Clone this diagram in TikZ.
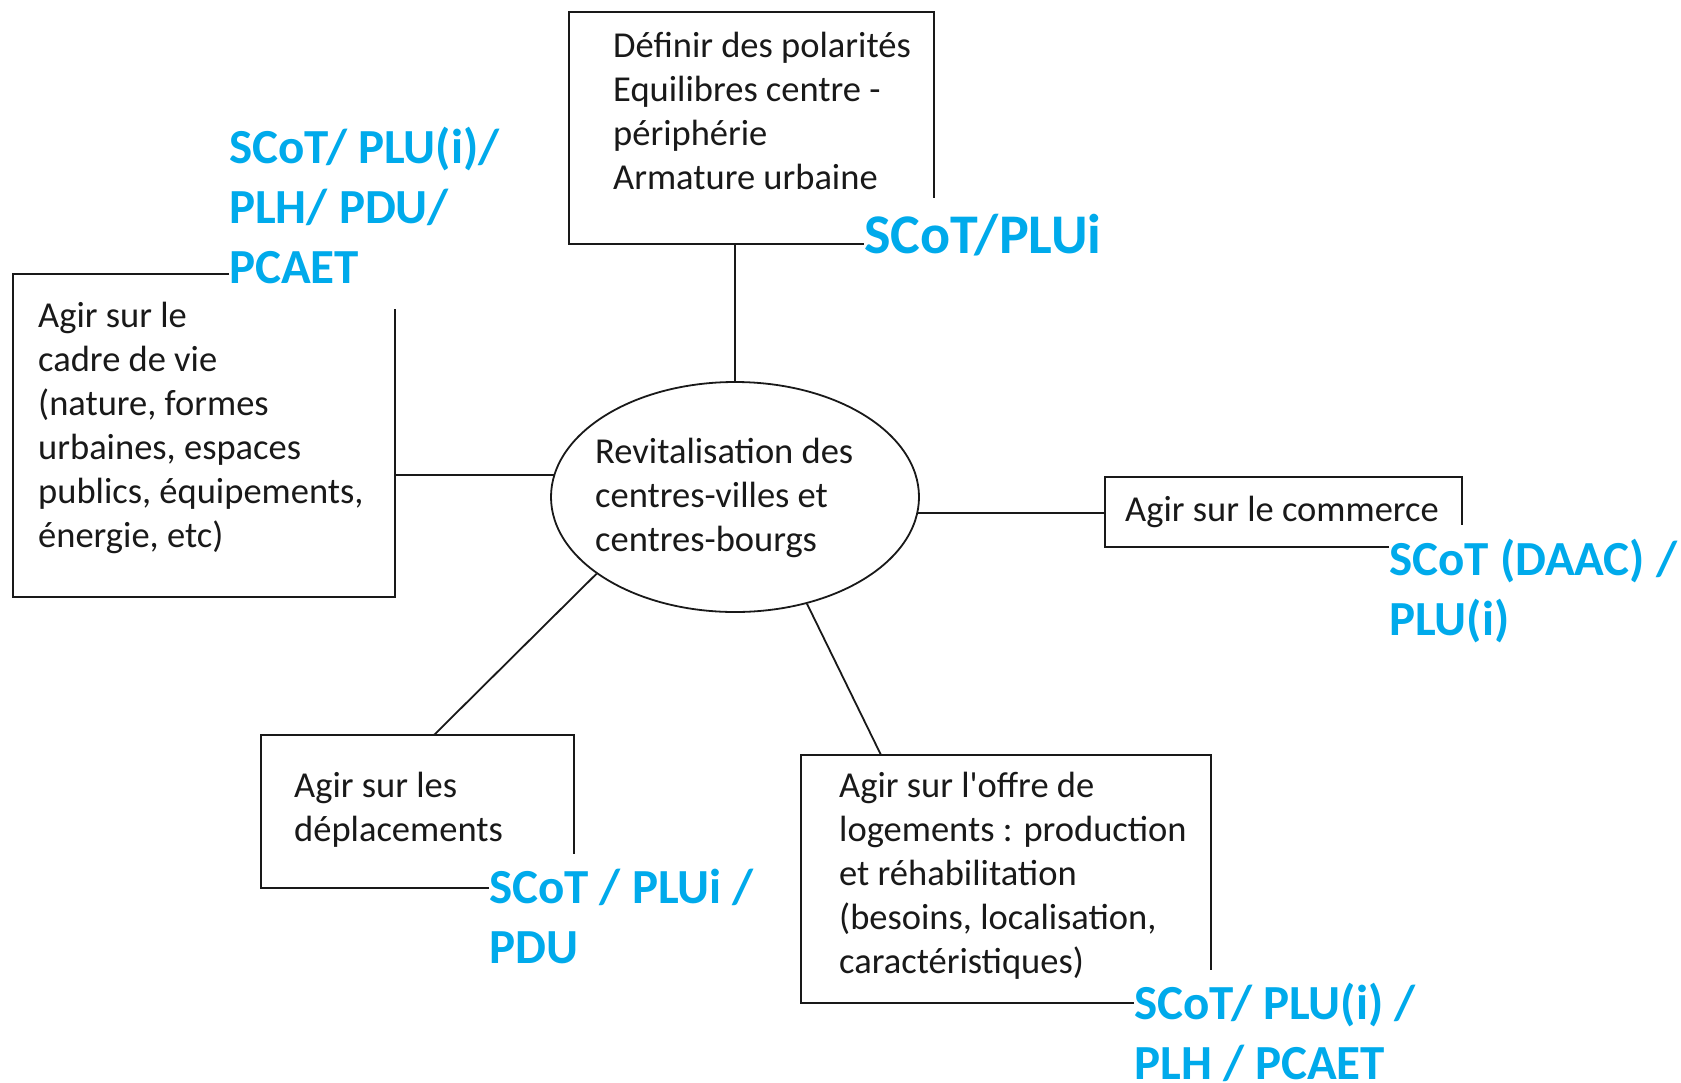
\documentclass[tikz,border=0pt]{standalone}
\usepackage{fontspec}
\setmainfont{Carlito}[Ligatures=TeXOff]
\usetikzlibrary{calc,shapes.geometric}
\definecolor{lblue}{RGB}{0,170,235}
\definecolor{ink}{RGB}{25,25,25}
\begin{document}
\begin{tikzpicture}[x=1pt,y=-1pt,
  box/.style={draw=none,inner sep=0pt,outer sep=0pt},
  frame/.style={draw=ink,line width=2.2pt,line join=miter},
  body/.style={font=\fontsize{36.5}{44}\selectfont,text=ink,align=left,anchor=base west,inner sep=0pt},
  tag/.style={font=\fontsize{49}{60}\selectfont\bfseries,text=lblue,align=left,anchor=base west,inner sep=0pt},
  link/.style={draw=ink,line width=1.8pt}]
\useasboundingbox (0,0) rectangle (1681,1082);
\fill[white] (0,0) rectangle (1681,1082);

% central ellipse (text anchored at the baseline of its last line)
\node[draw=ink,line width=1.8pt,ellipse,minimum width=368pt,minimum height=230pt,inner sep=0pt] (ell) at (735,497) {};
\node[body] (elltxt) at (595,551) {Revitalisation des\\centres-villes et\\centres-bourgs};

% top box
\node[box,minimum width=365pt,minimum height=232pt] (top) at (751.5,128) {};
\node[body] (toptxt) at (613,189) {Définir des polarités\\Equilibres centre -\\périphérie\\Armature urbaine};
\node[tag,font=\fontsize{56}{60}\selectfont\bfseries] (toptag) at (864,253) {SCoT/PLUi};
\draw[frame] (toptag.west |- top.south) -- (top.south west) -- (top.north west) -- (top.north east) -- ++(0,186);

% left box
\node[box,minimum width=382pt,minimum height=323pt] (cadre) at (204,435.5) {};
\node[body] (cadretxt) at (38,547) {Agir sur le\\cadre de vie\\(nature, formes\\urbaines, espaces\\publics, équipements,\\énergie, etc)};
\node[tag] (cadretag) at (229,283) {SCoT/ PLU(i)/\\PLH/ PDU/\\PCAET};
\draw[frame] (cadretag.west |- cadre.north) -- (cadre.north west) -- (cadre.south west) -- (cadre.south east) -- ($(cadre.north east)+(0,35)$);

% commerce box
\node[box,minimum width=357pt,minimum height=70pt] (com) at (1283.5,512) {};
\node[body] (comtxt) at (1125,521) {Agir sur le commerce};
\node[tag] (comtag) at (1389,635) {SCoT (DAAC) /\\PLU(i)};
\draw[frame] (comtag.west |- com.south) -- (com.south west) -- (com.north west) -- (com.north east) -- ++(0,48);

% deplacements box
\node[box,minimum width=313pt,minimum height=153pt] (dep) at (417.5,811.5) {};
\node[body] (deptxt) at (294,841) {Agir sur les\\déplacements};
\node[tag] (deptag) at (489,963) {SCoT / PLUi /\\PDU};
\draw[frame] (deptag.west |- dep.south) -- (dep.south west) -- (dep.north west) -- (dep.north east) -- ++(0,119);

% logements box
\node[box,minimum width=410pt,minimum height=248pt] (log) at (1006,879) {};
\node[body] (logtxt) at (839,973) {Agir sur l'offre de\\logements : production\\et réhabilitation\\(besoins, localisation,\\caractéristiques)};
\node[tag] (logtag) at (1134,1079) {SCoT/ PLU(i) /\\PLH / PCAET};
\draw[frame] (logtag.west |- log.south) -- (log.south west) -- (log.north west) -- (log.north east) -- ++(0,215);

% connectors
\draw[link] (top.south -| ell.north) -- (ell.north);
\draw[link] (cadre.east |- ell.173) -- (ell.173);
\draw[link] (ell.-5) -- (com.west |- ell.-5);
\draw[link] (ell.209) -- ($(dep.north west)+(173,0)$);
\draw[link] (ell.-56) -- ($(log.north west)+(80,0)$);
\end{tikzpicture}
\end{document}
